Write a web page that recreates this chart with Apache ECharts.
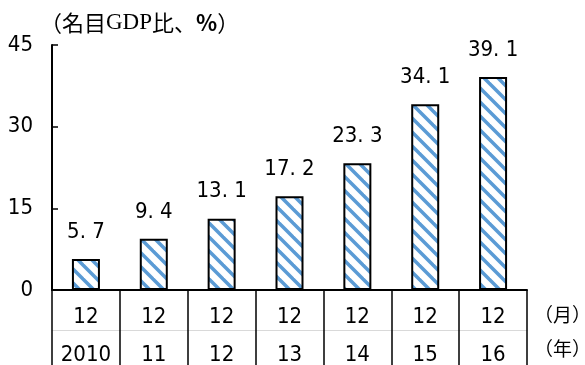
<!DOCTYPE html>
<html>
<head>
<meta charset="utf-8">
<script src="https://cdn.jsdelivr.net/npm/echarts@6/dist/echarts.min.js"></script>
<style>
  html, body { margin: 0; padding: 0; background: #fff; }
  #chart { width: 585px; height: 365px; }
</style>
</head>
<body>
<div id="chart"></div>
<script>
// Ratio to nominal GDP (%), December of each year
const months = ['12', '12', '12', '12', '12', '12', '12'];
const years = ['2010', '11', '12', '13', '14', '15', '16'];
const values = [5.7, 9.4, 13.1, 17.2, 23.3, 34.1, 39.1];
const yMin = 0, yMax = 45, yStep = 15;

const NARROW = "'Liberation Sans Narrow', 'DejaVu Sans Condensed', 'Noto Sans CJK JP', sans-serif";
const CJK = "'Noto Sans CJK JP', sans-serif";

// Diagonal blue/white hatch used for the bars
function hatch() {
  const s = 14;
  const c = document.createElement('canvas');
  c.width = s; c.height = s;
  const g = c.getContext('2d');
  g.fillStyle = '#ffffff';
  g.fillRect(0, 0, s, s);
  g.strokeStyle = '#5b9bd5';
  g.lineWidth = 3.5;
  for (let k = -1; k <= 1; k++) {
    g.beginPath();
    g.moveTo(-2, -2 + k * s);
    g.lineTo(s + 2, s + 2 + k * s);
    g.stroke();
  }
  return c;
}

const chart = echarts.init(document.getElementById('chart'), null, { renderer: 'canvas' });

const categories = months.map((m, i) => m + '\n' + years[i]);

chart.setOption({
  animation: false,
  backgroundColor: '#ffffff',
  grid: { left: 52, right: 58, top: 45, bottom: 75, outerBoundsMode: 'none', containLabel: false },
  xAxis: [{
    type: 'category',
    data: categories,
    boundaryGap: true,
    axisLine: { show: true, lineStyle: { color: '#000', width: 2 } },
    axisTick: { show: true, inside: false, length: 75, lineStyle: { color: '#000', width: 1.5 } },
    axisLabel: {
      color: '#000', fontFamily: NARROW, fontSize: 22,
      lineHeight: 38, margin: 8, interval: 0
    },
    splitLine: { show: false }
  }, {
    // faint divider between the month row and the year row
    type: 'category',
    data: categories,
    position: 'bottom',
    offset: 40,
    axisLine: { show: true, lineStyle: { color: '#d9d9d9', width: 1 } },
    axisTick: { show: false },
    axisLabel: { show: false }
  }],
  yAxis: {
    type: 'value',
    min: yMin, max: yMax, interval: yStep,
    axisLine: { show: true, lineStyle: { color: '#000', width: 2 } },
    axisTick: { show: true, inside: true, length: 6, lineStyle: { color: '#000', width: 1.5 } },
    axisLabel: { color: '#000', fontFamily: NARROW, fontSize: 22, margin: 19 },
    splitLine: { show: false }
  },
  series: [{
    type: 'bar',
    data: values,
    barWidth: 28,
    itemStyle: {
      color: { image: hatch(), repeat: 'repeat' },
      borderColor: '#000',
      borderWidth: 2
    },
    label: {
      show: true, position: 'top', distance: 16,
      color: '#000', fontFamily: NARROW, fontSize: 22,
      formatter: p => String(p.value).replace('.', '. ')
    }
  }],
  graphic: [
    {
      type: 'text', left: 40, top: 11,
      style: {
        text: '（名目{g|GDP}比、{p|%}）',
        fontFamily: CJK, fontSize: 22, fill: '#000',
        rich: {
          g: { fontFamily: "'Liberation Serif', serif", fontSize: 23, fill: '#000' },
          p: { fontFamily: CJK, fontSize: 22, fontWeight: 'bold', fill: '#000' }
        }
      }
    },
    { type: 'text', left: 534, top: 305, style: { text: '（月）', fontFamily: CJK, fontSize: 19, fill: '#000' } },
    { type: 'text', left: 534, top: 339, style: { text: '（年）', fontFamily: CJK, fontSize: 19, fill: '#000' } }
  ]
});
</script>
</body>
</html>
